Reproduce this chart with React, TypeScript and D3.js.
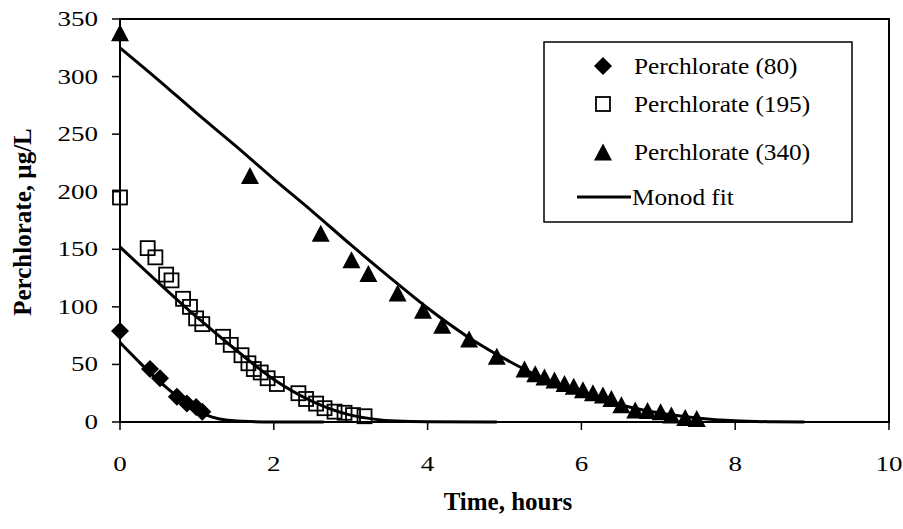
import React from "react";
import * as d3 from "d3";

// Measured perchlorate concentrations (µg/L) over time (hours), three starting levels
const hours80 = [0, 0.39, 0.52, 0.74, 0.87, 0.99, 1.07];
const perchlorate80 = [79, 46, 38, 22, 16, 13, 9];

const hours195 = [0, 0.36, 0.46, 0.6, 0.67, 0.82, 0.91, 0.99, 1.07, 1.34, 1.44, 1.58, 1.67, 1.74, 1.83, 1.92, 2.04, 2.32, 2.42, 2.55, 2.66, 2.79, 2.92, 3.03, 3.18];
const perchlorate195 = [195, 151, 143, 128, 123, 107, 100, 90, 85, 74, 67, 58, 51, 46, 43, 38, 33, 25, 20, 16, 12, 9, 8, 6, 5];

const hours340 = [0, 1.69, 2.61, 3.01, 3.23, 3.61, 3.94, 4.19, 4.54, 4.9, 5.26, 5.4, 5.52, 5.65, 5.78, 5.9, 6.02, 6.15, 6.28, 6.39, 6.52, 6.7, 6.86, 7.03, 7.17, 7.35, 7.5];
const perchlorate340 = [338, 214, 164, 141, 129, 112, 97, 84, 72, 57, 46, 42, 39, 36.5, 33.5, 31, 28, 25.5, 23.5, 20.5, 15, 10.5, 10, 9, 6, 4, 3];

// Monod model fit curves
const fitHours80 = [0, 0.25, 0.5, 0.75, 1.0, 1.2, 1.4, 1.7, 2.0, 2.65];
const fitValues80 = [69, 52, 36, 22, 10, 4.2, 1.5, 0.4, 0.1, 0];
const fitHours195 = [0, 0.5, 1, 1.5, 2, 2.5, 3, 3.3, 3.6, 4, 4.9];
const fitValues195 = [152, 121, 91, 63, 37, 18, 6, 2.5, 0.8, 0.2, 0];
const fitHours340 = [0, 0.5, 1, 1.5, 2, 2.5, 3, 3.5, 4, 4.5, 5, 5.5, 6, 6.5, 7, 7.5, 8, 8.5, 8.9];
const fitValues340 = [325, 297, 268, 240, 211, 183, 154, 126, 99, 75, 55, 38, 25, 15, 8, 3.5, 1, 0.2, 0];

const xTicks = [0, 2, 4, 6, 8, 10];
const yTicks = [0, 50, 100, 150, 200, 250, 300, 350];
const legendLabels = ["Perchlorate (80)", "Perchlorate (195)", "Perchlorate (340)", "Monod fit"];

const W = 903;
const H = 529;
const plot = { left: 120, right: 889, top: 19, bottom: 422 };
const FONT = "'Liberation Serif', 'Times New Roman', serif";

const x = d3.scaleLinear().domain([0, 10]).range([plot.left, plot.right]);
const y = d3.scaleLinear().domain([0, 350]).range([plot.bottom, plot.top]);

const zip = (xs: number[], ys: number[]) => xs.map((t, i) => [t, ys[i]] as [number, number]);

const lineGen = d3
  .line<[number, number]>()
  .x((d) => x(d[0]))
  .y((d) => y(d[1]))
  .curve(d3.curveMonotoneX);

const diamondPath = (cx: number, cy: number, r: number) =>
  `M${cx},${cy - r}L${cx + r},${cy}L${cx},${cy + r}L${cx - r},${cy}Z`;
const trianglePath = (cx: number, cy: number, b: number, h: number) =>
  `M${cx},${cy - h / 2}L${cx + b / 2},${cy + h / 2}L${cx - b / 2},${cy + h / 2}Z`;

const Diamond = ({ cx, cy }: { cx: number; cy: number }) => (
  <path d={diamondPath(cx, cy, 9)} fill="#000" />
);
const Square = ({ cx, cy }: { cx: number; cy: number }) => (
  <rect x={cx - 7} y={cy - 7} width={14} height={14} fill="none" stroke="#000" strokeWidth={1.8} />
);
const Triangle = ({ cx, cy }: { cx: number; cy: number }) => (
  <path d={trianglePath(cx, cy, 18, 17)} fill="#000" />
);

export default function App() {
  const fits = [
    zip(fitHours80, fitValues80),
    zip(fitHours195, fitValues195),
    zip(fitHours340, fitValues340),
  ];
  const legendX = 544;
  const legendRows = [66, 104, 152, 197];

  return (
    <svg
      width={W}
      height={H}
      viewBox={`0 0 ${W} ${H}`}
      style={{ position: "absolute", left: 0, top: 0, background: "#fff" }}
      fontFamily={FONT}
    >
      <rect x={0} y={0} width={W} height={H} fill="#fff" />

      {/* plot frame */}
      <rect
        x={plot.left}
        y={plot.top}
        width={plot.right - plot.left}
        height={plot.bottom - plot.top}
        fill="none"
        stroke="#000"
        strokeWidth={2}
      />

      {/* y axis ticks and labels */}
      {yTicks.map((v) => (
        <g key={"y" + v}>
          <line x1={plot.left - 8} x2={plot.left} y1={y(v)} y2={y(v)} stroke="#000" strokeWidth={1.5} />
          <g transform={`translate(${plot.left - 22},${y(v) + 7}) scale(1.35,1)`}>
            <text textAnchor="end" fontSize={20} fill="#000">
              {v}
            </text>
          </g>
        </g>
      ))}

      {/* x axis ticks and labels */}
      {xTicks.map((t) => (
        <g key={"x" + t}>
          <line x1={x(t)} x2={x(t)} y1={plot.bottom} y2={plot.bottom + 8} stroke="#000" strokeWidth={1.5} />
          <g transform={`translate(${x(t)},${471}) scale(1.35,1)`}>
            <text textAnchor="middle" fontSize={20} fill="#000">
              {t}
            </text>
          </g>
        </g>
      ))}

      {/* axis titles */}
      <text
        x={508}
        y={510}
        textAnchor="middle"
        fontSize={25}
        fontWeight="bold"
        fill="#000"
      >
        Time, hours
      </text>
      <text
        transform={`translate(31,222) rotate(-90)`}
        textAnchor="middle"
        fontSize={25}
        fontWeight="bold"
        fill="#000"
      >
        Perchlorate, µg/L
      </text>

      {/* data markers */}
      {hours80.map((t, i) => (
        <Diamond key={"d" + i} cx={x(t)} cy={y(perchlorate80[i])} />
      ))}
      {hours195.map((t, i) => (
        <Square key={"s" + i} cx={x(t)} cy={y(perchlorate195[i])} />
      ))}
      {hours340.map((t, i) => (
        <Triangle key={"t" + i} cx={x(t)} cy={y(perchlorate340[i])} />
      ))}

      {/* Monod fit curves */}
      {fits.map((pts, i) => (
        <path key={"f" + i} d={lineGen(pts) || ""} fill="none" stroke="#000" strokeWidth={3} />
      ))}

      {/* legend */}
      <rect x={legendX} y={42} width={308} height={180} fill="#fff" stroke="#000" strokeWidth={1.5} />
      <Diamond cx={603} cy={legendRows[0]} />
      <Square cx={603} cy={legendRows[1]} />
      <Triangle cx={603} cy={legendRows[2]} />
      <line x1={577} x2={631} y1={legendRows[3]} y2={legendRows[3]} stroke="#000" strokeWidth={3} />
      {legendLabels.map((lab, i) => (
        <g key={"l" + i} transform={`translate(${i === 3 ? 632 : 634},${legendRows[i] + 8}) scale(1.1,1)`}>
          <text fontSize={23} fill="#000">
            {lab}
          </text>
        </g>
      ))}
    </svg>
  );
}
